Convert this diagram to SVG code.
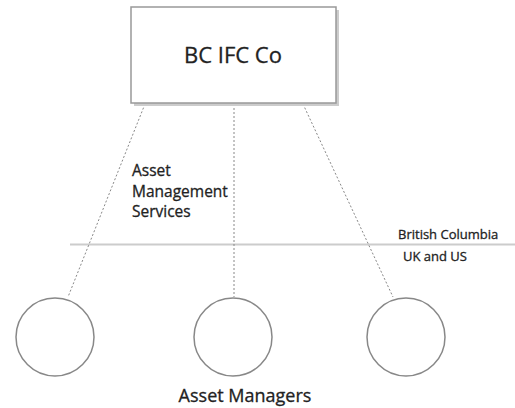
<svg xmlns="http://www.w3.org/2000/svg" width="515" height="408" viewBox="0 0 515 408">
  <style>
    .label { font-family: "Open Sans", "Noto Sans", sans-serif; fill: #222; stroke: #222; stroke-width: 0.3; }
    .link { stroke: #888; stroke-width: 1; stroke-dasharray: 2 2; fill: none; }
    .circle { fill: #fff; stroke: #888; stroke-width: 1.5; }
  </style>
  <rect width="515" height="408" fill="#fff"/>

  <!-- jurisdiction boundary -->
  <line x1="70" y1="244.5" x2="515" y2="244.5" stroke="#ccc" stroke-width="2"/>

  <g id="connectors">
    <line class="link" x1="145" y1="104" x2="68" y2="297"/>
    <line class="link" x1="234" y1="104" x2="234" y2="297"/>
    <line class="link" x1="303" y1="104" x2="393" y2="297"/>
  </g>

  <g id="bcifc">
    <rect x="134" y="10" width="205" height="96" fill="#ccc"/>
    <rect x="131" y="7" width="205" height="96" fill="#fff" stroke="#999" stroke-width="1.5"/>
    <text class="label" x="233" y="63" font-size="22" text-anchor="middle">BC IFC Co</text>
  </g>

  <g id="services-label">
    <text class="label" font-size="15.5">
      <tspan x="132" y="176">Asset</tspan>
      <tspan x="132" y="196.5">Management</tspan>
      <tspan x="132" y="217">Services</tspan>
    </text>
  </g>

  <g id="jurisdictions">
    <text class="label" x="398" y="239" font-size="13">British Columbia</text>
    <text class="label" x="403" y="261" font-size="13">UK and US</text>
  </g>

  <g id="manager1"><circle class="circle" cx="55" cy="337" r="39"/></g>
  <g id="manager2"><circle class="circle" cx="233" cy="337" r="39"/></g>
  <g id="manager3"><circle class="circle" cx="406" cy="337" r="39"/></g>

  <g id="managers-label">
    <text class="label" x="245" y="402" font-size="18" text-anchor="middle">Asset Managers</text>
  </g>
</svg>
